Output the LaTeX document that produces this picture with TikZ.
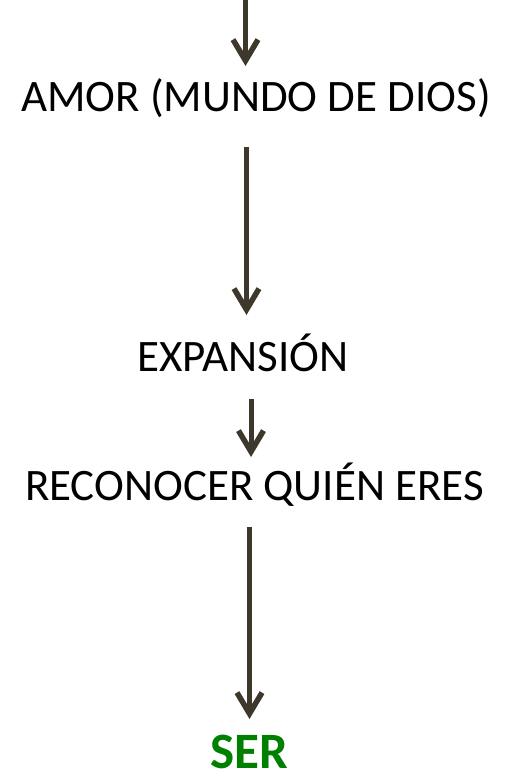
\documentclass[tikz,border=0pt]{standalone}
\usepackage{fontspec}
\setmainfont{Carlito}
\usetikzlibrary{arrows.meta}
\definecolor{arr}{HTML}{3D372C}
\definecolor{sergreen}{HTML}{008000}
\begin{document}
\begin{tikzpicture}[x=1pt,y=-1pt,
  lbl/.style={inner sep=0pt,font=\fontsize{45}{54}\selectfont,anchor=base},
  arrline/.style={draw=arr,line width=5pt,-{Straight Barb[length=21pt,width=25pt,line width=5.5pt]}}]
\useasboundingbox (0,0) rectangle (506,777);
\coordinate (top) at (245.5,0);
\node[lbl] (amor) at (256,111) {AMOR (MUNDO DE DIOS)};
\node[lbl] (exp) at (243,371) {EXPANSIÓN};
\node[lbl] (rec) at (254.5,500) {RECONOCER QUIÉN ERES};
\node[lbl,text depth=0pt,font=\bfseries\fontsize{51}{60}\selectfont,text=sergreen] (ser) at (249.5,768) {SER};
\coordinate (a1e) at (245.5,66);
\coordinate (a2s) at (246.5,147);
\coordinate (a2e) at (246.5,315);
\coordinate (a3s) at (251,399);
\coordinate (a3e) at (251,457);
\coordinate (a4s) at (249.5,527);
\coordinate (a4e) at (249.5,719);
\draw[arrline] (top) -- (a1e);
\draw[arrline] (a2s) -- (a2e);
\draw[arrline] (a3s) -- (a3e);
\draw[arrline] (a4s) -- (a4e);
\end{tikzpicture}
\end{document}
